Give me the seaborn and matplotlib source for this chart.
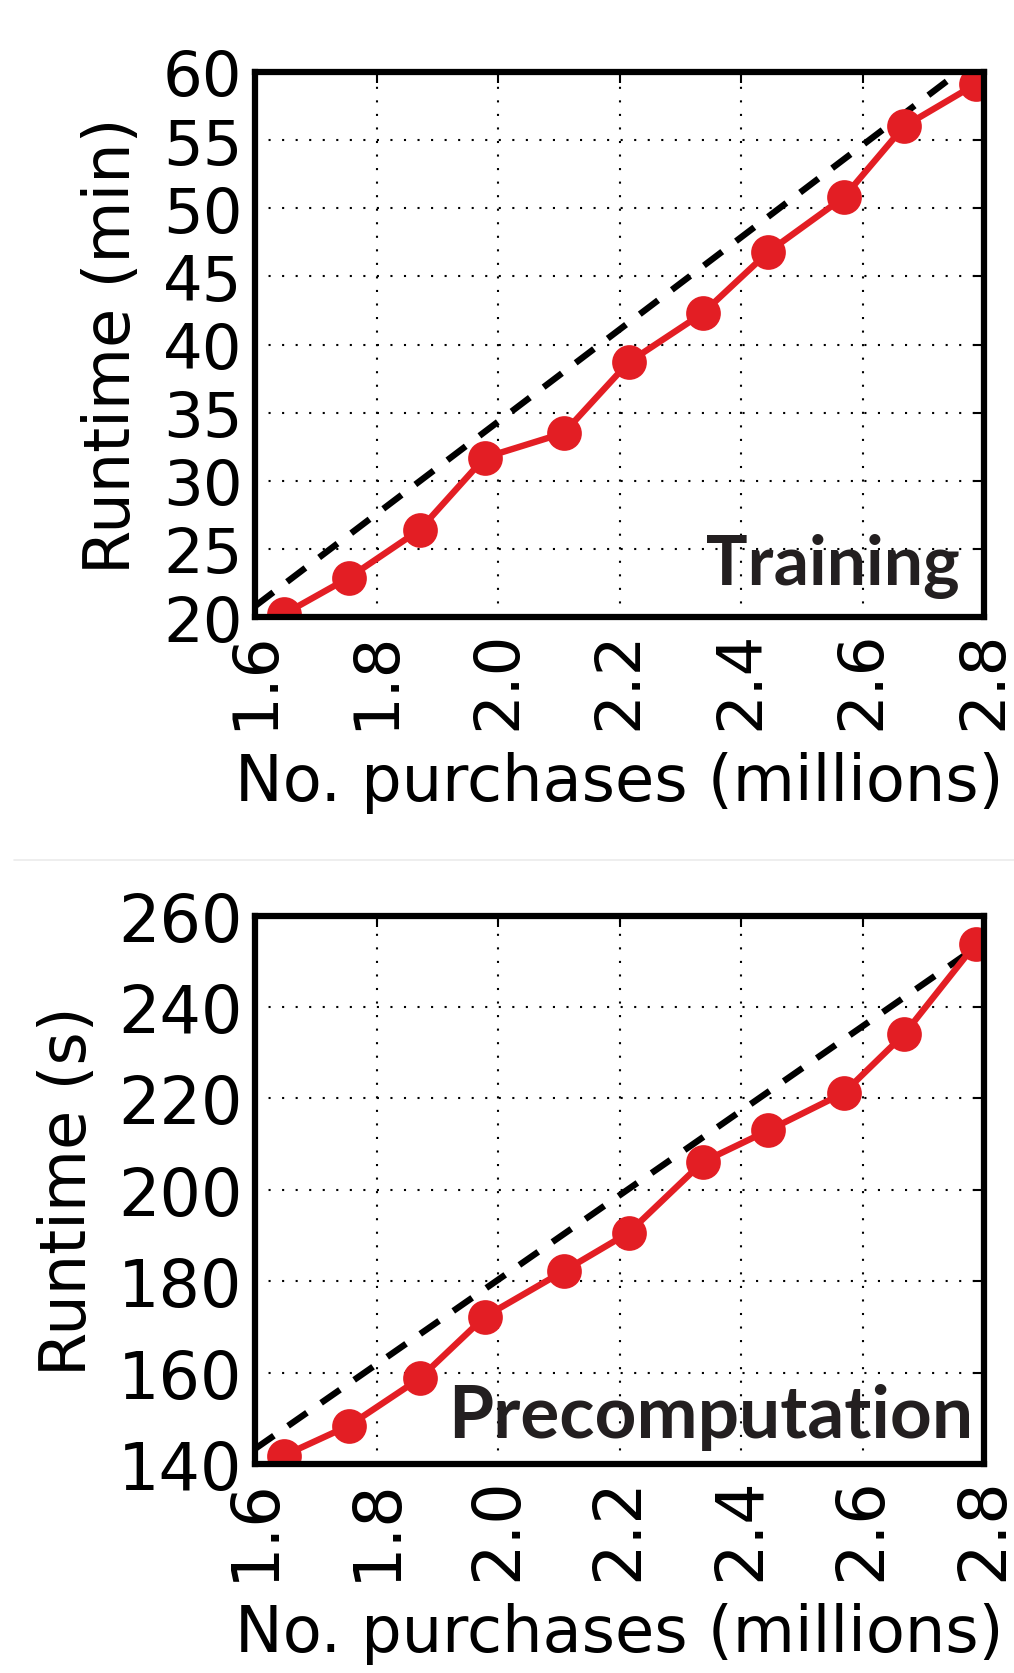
import matplotlib
matplotlib.use("Agg")
import matplotlib.pyplot as plt
from matplotlib.lines import Line2D
import numpy as np
import pandas as pd
import seaborn as sns

# Dataset sizes (millions of purchases) and measured runtimes
purchases = [1.647, 1.755, 1.871, 1.978, 2.108, 2.215, 2.337, 2.445, 2.569, 2.668, 2.786]
training_min = [20.2, 22.9, 26.4, 31.7, 33.5, 38.7, 42.3, 46.8, 50.8, 56.0, 59.1]
precomp_s = [141.8, 148.4, 158.7, 172.2, 182.2, 190.6, 206.1, 213.0, 221.2, 234.0, 253.8]

# Linear-scaling reference lines (endpoints)
ref_x = [1.6, 2.8]
training_ref = [20.8, 61.4]
precomp_ref = [143.3, 254.3]

x_ticks = [1.6, 1.8, 2.0, 2.2, 2.4, 2.6, 2.8]
x_tick_labels = ["1.6", "1.8", "2.0", "2.2", "2.4", "2.6", "2.8"]
training_yticks = [20, 25, 30, 35, 40, 45, 50, 55, 60]
precomp_yticks = [140, 160, 180, 200, 220, 240, 260]

sns.set_style("white")
plt.rcParams["font.family"] = ["DejaVu Sans"]
plt.rcParams["text.color"] = "black"
plt.rcParams["axes.labelcolor"] = "black"
plt.rcParams["xtick.color"] = "black"
plt.rcParams["ytick.color"] = "black"

RED = "#e31e24"
TEXT_DARK = "#231f20"

fig = plt.figure(figsize=(10.14, 16.74), dpi=100)
fig.patch.set_facecolor("white")

ax_top = fig.add_axes([0.2515, 0.6308, 0.719, 0.3256])
ax_bot = fig.add_axes([0.2515, 0.1249, 0.719, 0.3275])


def draw_panel(ax, y, ref_y, yticks, ylim, ylabel, tag, tag_pos, tag_fs, fs, ylpad):
    df = pd.DataFrame({"x": purchases, "y": y})
    ref = pd.DataFrame({"x": ref_x, "y": ref_y})
    sns.lineplot(data=ref, x="x", y="y", ax=ax, color="black", linewidth=4.6,
                 zorder=3)
    ax.lines[-1].set_dashes((3.6, 2.7))
    sns.lineplot(data=df, x="x", y="y", ax=ax, color=RED, linewidth=4.6,
                 marker="o", markersize=25, markeredgewidth=0,
                 markerfacecolor=RED, zorder=4)
    ax.set_xlim(1.6, 2.8)
    ax.set_ylim(*ylim)
    ax.set_xticks(x_ticks)
    ax.set_xticklabels(x_tick_labels, rotation=90)
    ax.set_yticks(yticks)
    ax.grid(True, color="black", linestyle=(0, (1, 5.5)), linewidth=1.5)
    ax.set_axisbelow(True)
    for s in ax.spines.values():
        s.set_visible(True)
        s.set_linewidth(4.5)
        s.set_color("black")
        s.set_zorder(6)
    ax.tick_params(axis="both", which="major", direction="in", length=8,
                   width=1.5, color="black", labelsize=fs, pad=9,
                   top=True, right=True, labelcolor="black")
    ax.set_xlabel("No. purchases (millions)", fontsize=46, labelpad=16,
                  color="black")
    ax.set_ylabel(ylabel, fontsize=46, labelpad=ylpad, color="black")
    ax.text(tag_pos[0], tag_pos[1], tag, transform=ax.transAxes,
            ha="right", va="baseline", fontsize=tag_fs, fontweight="bold",
            family=["Lato", "DejaVu Sans"], color=TEXT_DARK, zorder=7)


draw_panel(ax_top, training_min, training_ref, training_yticks, (20, 60),
           "Runtime (min)", "Training", (0.966, 0.060), 50, 45, 14)
draw_panel(ax_bot, precomp_s, precomp_ref, precomp_yticks, (140, 260),
           "Runtime (s)", "Precomputation", (0.985, 0.050), 52.5, 47, 14)

# faint divider between the two panels
fig.add_artist(Line2D([0.014, 1.0], [1 - 861 / 1674, 1 - 861 / 1674],
                      transform=fig.transFigure, color="#ebebeb", linewidth=1.2))

fig.savefig("out.png", dpi=100, facecolor="white")
